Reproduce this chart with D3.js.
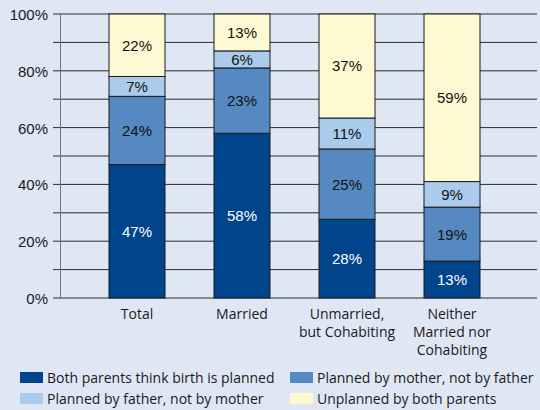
<!DOCTYPE html>
<html>
<head>
<meta charset="utf-8">
<script src="https://cdn.jsdelivr.net/npm/d3@7"></script>
<style>
  html, body { margin: 0; padding: 0; background: #dfe7f5; }
  svg { display: block; }
</style>
</head>
<body>
<svg id="chart" width="540" height="410"></svg>
<script>
// Household types along the x axis
const categories = ["Total", "Married", "Unmarried, but Cohabiting", "Neither Married nor Cohabiting"];
const categoryLines = [["Total"], ["Married"], ["Unmarried,", "but Cohabiting"], ["Neither", "Married nor", "Cohabiting"]];

// Share of births (%) by planning status, one array per series
const bothPlanned   = [47, 58, 28, 13];
const motherOnly    = [24, 23, 25, 19];
const fatherOnly    = [7, 6, 11, 9];
const unplannedBoth = [22, 13, 37, 59];

const seriesNames = [
  "Both parents think birth is planned",
  "Planned by mother, not by father",
  "Planned by father, not by mother",
  "Unplanned by both parents"
];
const seriesValues = [bothPlanned, motherOnly, fatherOnly, unplannedBoth];
const colors = ["#00448b", "#5689c2", "#aacbec", "#fdfad3"];
const labelColors = ["#ffffff", "#111111", "#111111", "#111111"];

const yTicks = [0, 20, 40, 60, 80, 100];
const gridValues = [0, 10, 20, 30, 40, 50, 60, 70, 80, 90, 100];

const svg = d3.select("#chart");

const rows = categories.map((c, i) => {
  const r = { category: c };
  seriesNames.forEach((s, k) => { r[s] = seriesValues[k][i]; });
  return r;
});

// Each column is a 100% stack
const stacked = d3.stack().keys(seriesNames).offset(d3.stackOffsetExpand)(rows);

const x = d3.scaleBand()
  .domain(categories)
  .range([84.5, 504.5])
  .paddingInner(0.4667)
  .paddingOuter(0.2333);

const y = d3.scaleLinear().domain([0, 1]).range([298, 14]);

// Grid lines
svg.append("g")
  .selectAll("line")
  .data(gridValues)
  .join("line")
  .attr("x1", 53).attr("x2", 537)
  .attr("y1", d => y(d / 100)).attr("y2", d => y(d / 100))
  .attr("stroke", "#2a2a2a").attr("stroke-width", 1);

// Y axis
const yAxis = d3.axisLeft(y)
  .tickValues(yTicks.map(d => d / 100))
  .tickFormat(d => Math.round(d * 100) + "%")
  .tickSize(0)
  .tickPadding(0);

const yg = svg.append("g").attr("transform", "translate(48,0)").call(yAxis);
yg.select(".domain").remove();
yg.selectAll("text")
  .attr("font-family", "Liberation Sans, Arial, sans-serif")
  .attr("font-size", 15)
  .attr("fill", "#1a1a1a")
  .attr("dy", "0.36em");

svg.append("line")
  .attr("x1", 60.5).attr("x2", 60.5)
  .attr("y1", y(1)).attr("y2", y(0))
  .attr("stroke", "#777").attr("stroke-width", 1);

// Stacked bars
const layers = svg.append("g")
  .selectAll("g")
  .data(stacked)
  .join("g")
  .attr("fill", (d, i) => colors[i]);

layers.selectAll("rect")
  .data(d => d)
  .join("rect")
  .attr("x", d => x(d.data.category))
  .attr("width", x.bandwidth())
  .attr("y", d => y(d[1]))
  .attr("height", d => y(d[0]) - y(d[1]))
  .attr("stroke", "#1a1a1a")
  .attr("stroke-width", 1);

// Segment value labels
stacked.forEach((layer, k) => {
  svg.append("g")
    .selectAll("text")
    .data(layer)
    .join("text")
    .attr("x", d => x(d.data.category) + x.bandwidth() / 2)
    .attr("y", d => y((d[0] + d[1]) / 2))
    .attr("dy", "0.36em")
    .attr("text-anchor", "middle")
    .attr("font-family", "Liberation Sans, Arial, sans-serif")
    .attr("font-size", 15)
    .attr("fill", labelColors[k])
    .text(d => d.data[layer.key] + "%");
});

// Category labels
const xg = svg.append("g");
categories.forEach((c, i) => {
  const t = xg.append("text")
    .attr("x", x(c) + x.bandwidth() / 2)
    .attr("y", 319)
    .attr("text-anchor", "middle")
    .attr("font-family", "Open Sans, sans-serif")
    .attr("font-size", 14)
    .attr("fill", "#1a1a1a");
  categoryLines[i].forEach((line, j) => {
    t.append("tspan")
      .attr("x", x(c) + x.bandwidth() / 2)
      .attr("dy", j === 0 ? 0 : 18)
      .text(line);
  });
});

// Legend
const legendPos = [[20, 372], [290, 372], [20, 393], [290, 393]];
const legend = svg.append("g");
seriesNames.forEach((s, i) => {
  const [lx, ly] = legendPos[i];
  legend.append("rect")
    .attr("x", lx).attr("y", ly)
    .attr("width", 23).attr("height", 11)
    .attr("fill", colors[i]);
  legend.append("text")
    .attr("x", lx + 27).attr("y", ly + 10.5)
    .attr("font-family", "Open Sans, sans-serif")
    .attr("font-size", 14)
    .attr("fill", "#1a1a1a")
    .text(s);
});
</script>
</body>
</html>
